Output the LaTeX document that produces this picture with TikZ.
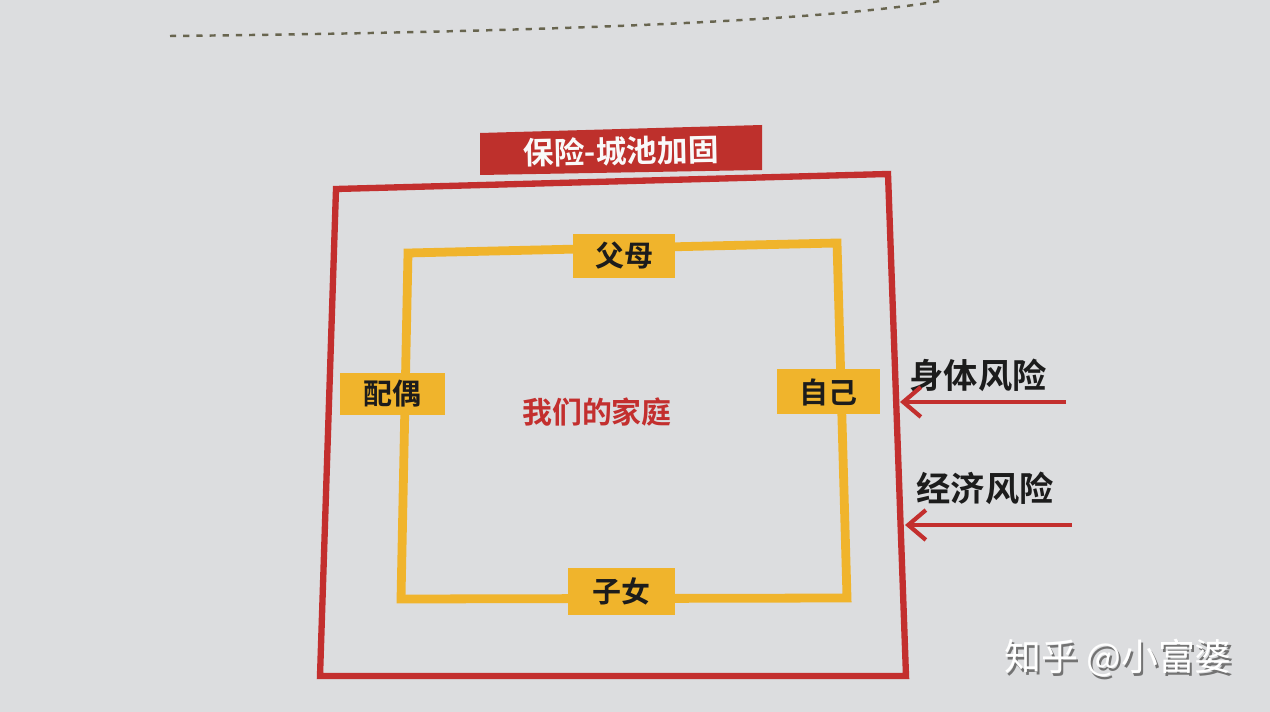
\documentclass[tikz,border=0pt]{standalone}
\usepackage{fontspec}
\newfontfamily\cjk{Noto Sans CJK SC}
\newfontfamily\cjkb{Noto Sans CJK SC Bold}
\usetikzlibrary{arrows.meta}
\definecolor{bg}{HTML}{DCDDDF}
\definecolor{frame}{HTML}{C32F2E}
\definecolor{titlered}{HTML}{BE302C}
\definecolor{gold}{HTML}{F0B42C}
\definecolor{ink}{HTML}{1C1C1C}
\tikzset{
  lbl/.style={fill=gold, inner sep=0pt, minimum height=44*0.02cm, font=\cjkb\fontsize{16.5}{16.5}\selectfont, text=ink},
  risk/.style={font=\cjkb\fontsize{19.5}{19.5}\selectfont, text=ink},
  riskarrow/.style={draw=frame, line width=2.4pt, -{Straight Barb[length=10pt,width=17pt,line width=2.4pt]}},
}
\begin{document}
\begin{tikzpicture}[x=0.02cm,y=-0.02cm]
\useasboundingbox (0,0) rectangle (1270,712);
\fill[bg] (0,0) rectangle (1270,712);
% page dashed line
\draw[black!60!olive!60!gray, line width=1.4pt, dash pattern=on 3.5pt off 4pt] (170,36) .. controls (450,33) and (800,25) .. (940,1);
% outer frame
\draw[frame, line width=3.6pt, line join=miter] (336,189) -- (888,174) -- (906,676) -- (320,676) -- cycle;
% title
\fill[titlered] (480,133) -- (762,125) -- (762,170) -- (480,175) -- cycle;
\node[text=white!95!gray, font=\cjkb\fontsize{17.5}{17.5}\selectfont, rotate=1.2] (title) at (621,151) {保险-城池加固};
% inner gold frame
\draw[gold, line width=5pt, line join=miter] (408,253) -- (837,243) -- (847,598) -- (401,599) -- cycle;
\node[lbl, minimum width=102*0.02cm] (fumu) at (624,256) {父母};
\node[lbl, minimum width=105*0.02cm, minimum height=42*0.02cm] (peiou) at (392,394) {配偶};
\node[lbl, minimum width=103*0.02cm, minimum height=45*0.02cm] (ziji) at (828,392) {自己};
\node[lbl, minimum width=107*0.02cm, minimum height=47*0.02cm] (zinv) at (621,591) {子女};
\node[font=\cjkb\fontsize{17}{17}\selectfont, text=frame] (home) at (597,412) {我们的家庭};
% risks
\node[risk] (body) at (978,375) {身体风险};
\node[risk] (econ) at (985,488) {经济风险};
\coordinate (b0) at (1066,402);
\coordinate (b1) at (900,402);
\coordinate (e0) at (1072,525);
\coordinate (e1) at (905,525);
\draw[riskarrow] (b0) -- (b1);
\draw[riskarrow] (e0) -- (e1);
% watermark
\node[font=\cjk\fontsize{21}{21}\selectfont, text=black!55, xshift=1.5pt, yshift=-1.5pt] at (1118,658) {知乎 @小富婆};
\node[font=\cjk\fontsize{21}{21}\selectfont, text=white] (wm) at (1118,658) {知乎 @小富婆};
\end{tikzpicture}
\end{document}
